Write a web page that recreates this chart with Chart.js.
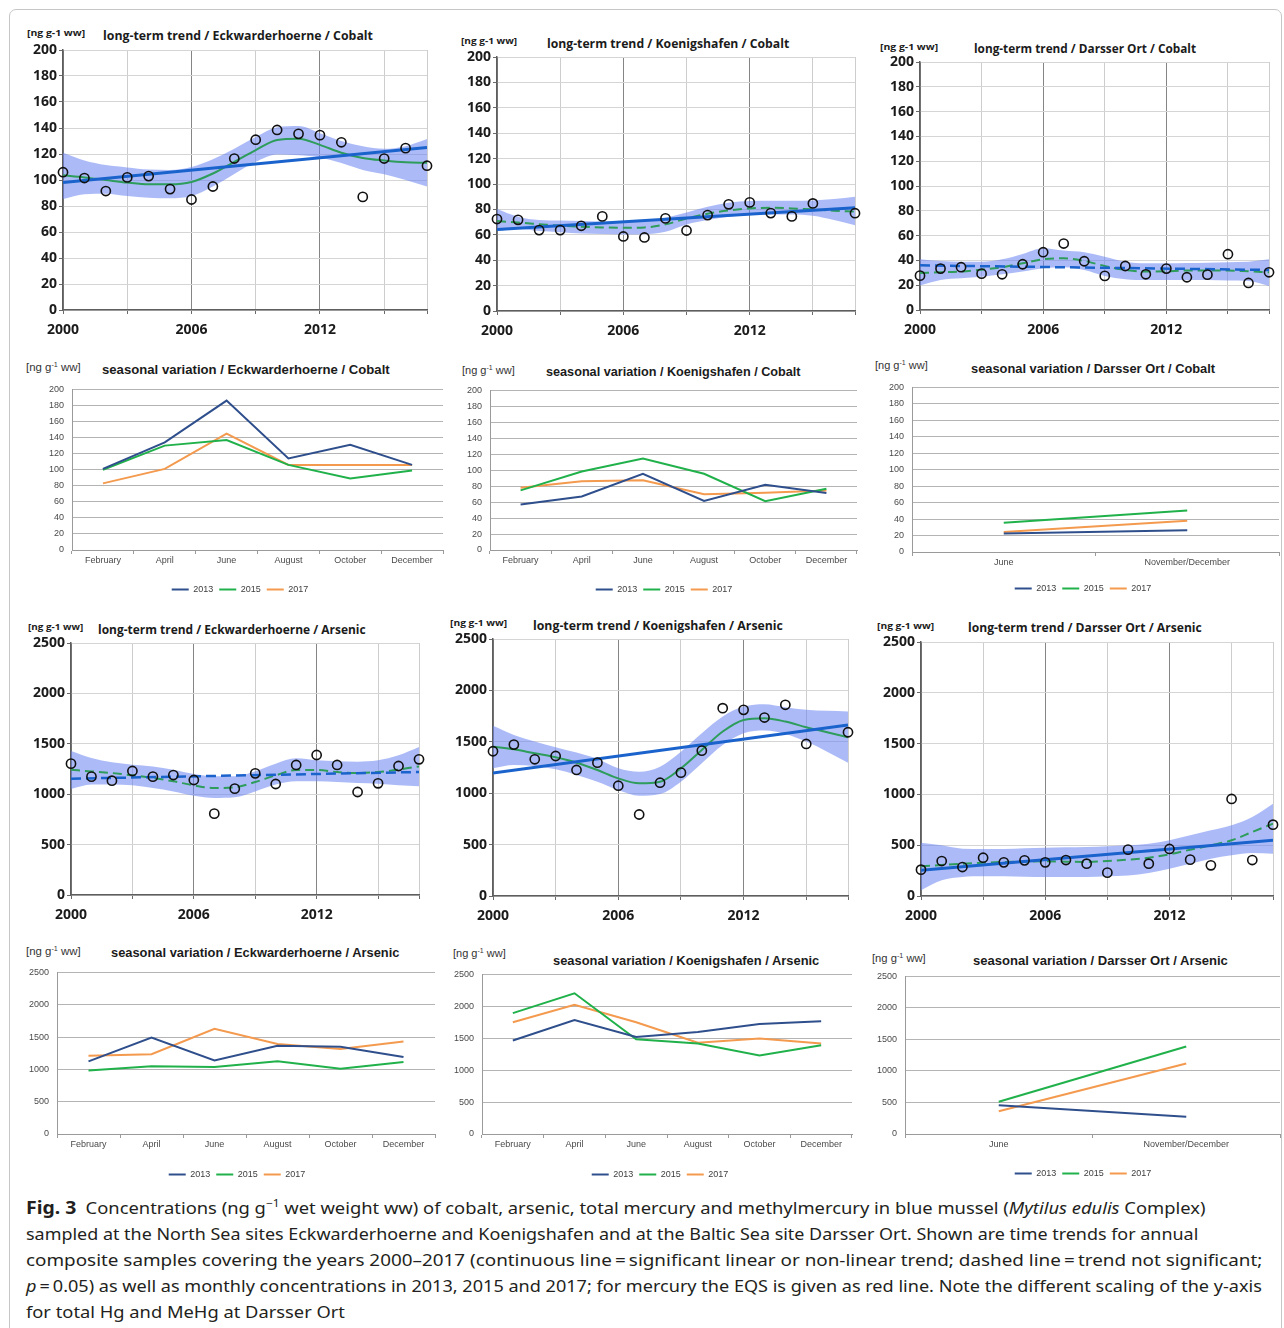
<!DOCTYPE html>
<html lang="en">
<head>
<meta charset="utf-8">
<title>Fig. 3 – cobalt and arsenic in blue mussel</title>
<script src="https://cdn.jsdelivr.net/npm/chart.js@4.4.1/dist/chart.umd.min.js"></script>
<style>
  html, body { margin:0; padding:0; background:#fff; }
  body { width:1284px; height:1328px; overflow:hidden; position:relative; }
  .frame { position:absolute; left:9px; top:9px; width:1273px; height:1340px; border:1px solid #c6c6c6; border-radius:7px; box-sizing:border-box; }
  canvas { position:absolute; }
  .t { position:absolute; white-space:nowrap; transform-origin:0 50%; transform:translateY(-50%); line-height:1.2; }
  .lt-title { font:700 12px 'Open Sans', sans-serif; color:#1b1b1b; }
  .lt-unit { font:700 9px 'Open Sans', sans-serif; color:#1b1b1b; }
  .sv-title { font:700 13px 'Liberation Sans', Arial, sans-serif; color:#1b1b1b; }
  .sv-unit { font:400 11px 'Liberation Sans', Arial, sans-serif; color:#333; }
  .sv-unit sup { font-size:7px; vertical-align:4px; line-height:0; }
  .cap { font:400 17px 'Noto Sans', sans-serif; color:#231f20; }
  .cap b { font-weight:700; font-size:18px; }
  .cap sup { font-size:11px; vertical-align:7px; line-height:0; }
</style>
</head>
<body>
<div class="frame"></div>

<!-- long-term trend panels: headings -->
<div class="t lt-unit"  style="left:27px;top:32px"    data-w="58">[ng g-1 ww]</div>
<div class="t lt-title" style="left:103px;top:35px"   data-w="270">long-term trend / Eckwarderhoerne / Cobalt</div>
<div class="t lt-unit"  style="left:461px;top:39.5px" data-w="56">[ng g-1 ww]</div>
<div class="t lt-title" style="left:547px;top:42.5px" data-w="242">long-term trend / Koenigshafen / Cobalt</div>
<div class="t lt-unit"  style="left:880px;top:45.5px" data-w="58">[ng g-1 ww]</div>
<div class="t lt-title" style="left:974px;top:47.5px" data-w="222">long-term trend / Darsser Ort / Cobalt</div>

<div class="t lt-unit"  style="left:28px;top:625.8px"  data-w="55">[ng g-1 ww]</div>
<div class="t lt-title" style="left:98px;top:628.5px"  data-w="268">long-term trend / Eckwarderhoerne / Arsenic</div>
<div class="t lt-unit"  style="left:450px;top:621.7px" data-w="57">[ng g-1 ww]</div>
<div class="t lt-title" style="left:533px;top:624.5px" data-w="250">long-term trend / Koenigshafen / Arsenic</div>
<div class="t lt-unit"  style="left:877px;top:624.7px" data-w="57">[ng g-1 ww]</div>
<div class="t lt-title" style="left:968px;top:627px"   data-w="234">long-term trend / Darsser Ort / Arsenic</div>

<!-- seasonal variation panels: headings -->
<div class="t sv-unit"  style="left:26px;top:367px"    data-w="55">[ng g<sup>-1</sup> ww]</div>
<div class="t sv-title" style="left:102px;top:369px"   data-w="288">seasonal variation / Eckwarderhoerne / Cobalt</div>
<div class="t sv-unit"  style="left:462px;top:370px"   data-w="53">[ng g<sup>-1</sup> ww]</div>
<div class="t sv-title" style="left:546px;top:370.5px" data-w="255">seasonal variation / Koenigshafen / Cobalt</div>
<div class="t sv-unit"  style="left:875px;top:365px"   data-w="53">[ng g<sup>-1</sup> ww]</div>
<div class="t sv-title" style="left:971px;top:367.5px" data-w="244">seasonal variation / Darsser Ort / Cobalt</div>

<div class="t sv-unit"  style="left:26px;top:951px"    data-w="55">[ng g<sup>-1</sup> ww]</div>
<div class="t sv-title" style="left:111px;top:951.8px" data-w="288">seasonal variation / Eckwarderhoerne / Arsenic</div>
<div class="t sv-unit"  style="left:453px;top:953.3px" data-w="53">[ng g<sup>-1</sup> ww]</div>
<div class="t sv-title" style="left:553px;top:960px"   data-w="266">seasonal variation / Koenigshafen / Arsenic</div>
<div class="t sv-unit"  style="left:872px;top:957.8px" data-w="54">[ng g<sup>-1</sup> ww]</div>
<div class="t sv-title" style="left:973px;top:960px"   data-w="255">seasonal variation / Darsser Ort / Arsenic</div>

<canvas id="c1"></canvas><canvas id="c2"></canvas><canvas id="c3"></canvas>
<canvas id="c4"></canvas><canvas id="c5"></canvas><canvas id="c6"></canvas>
<canvas id="c7"></canvas><canvas id="c8"></canvas><canvas id="c9"></canvas>
<canvas id="c10"></canvas><canvas id="c11"></canvas><canvas id="c12"></canvas>

<!-- figure caption -->
<div class="t cap" style="left:26px;top:1207px" data-w="1179"><b>Fig. 3</b>&ensp;Concentrations (ng g<sup>−1</sup> wet weight ww) of cobalt, arsenic, total mercury and methylmercury in blue mussel (<i>Mytilus edulis</i> Complex)</div>
<div class="t cap" style="left:26px;top:1233px" data-w="1172">sampled at the North Sea sites Eckwarderhoerne and Koenigshafen and at the Baltic Sea site Darsser Ort. Shown are time trends for annual</div>
<div class="t cap" style="left:26px;top:1259px" data-w="1236">composite samples covering the years 2000–2017 (continuous line&#8201;=&#8201;significant linear or non-linear trend; dashed line&#8201;=&#8201;trend not significant;</div>
<div class="t cap" style="left:26px;top:1285px" data-w="1236"><i>p</i>&#8201;=&#8201;0.05) as well as monthly concentrations in 2013, 2015 and 2017; for mercury the EQS is given as red line. Note the different scaling of the y-axis</div>
<div class="t cap" style="left:26px;top:1311px" data-k="avg">for total Hg and MeHg at Darsser Ort</div>

<script>
// ---------- annual composite samples (long-term trends) ----------
const years = [2000, 2001, 2002, 2003, 2004, 2005, 2006, 2007, 2008, 2009, 2010, 2011, 2012, 2013, 2014, 2015, 2016, 2017];
const yearTicks = [2000, 2003, 2006, 2009, 2012, 2015, 2017];
const yearLabels = ['2000', '2006', '2012'];

// Eckwarderhoerne – cobalt
const eckCoAnnual = [106, 101.5, 91.5, 102, 103, 93, 85, 95, 116.5, 131, 138.5, 135.5, 134.5, 129, 87, 116.5, 124.5, 111];
const eckCoLinear = [98, 125];
const eckCoSmooth = [103.6, 102, 100, 98, 96.7, 96.7, 98.5, 105, 114, 123, 130.8, 131.8, 127, 121, 117, 115, 113.6, 113.3];
const eckCoUpper  = [121, 115, 111.5, 109.7, 108, 107.7, 110, 116, 124, 133, 140.5, 141.5, 136, 130, 126, 124, 126, 131.5];
const eckCoLower  = [85.4, 89, 89.5, 87.7, 86.4, 86, 87.7, 95, 104.6, 114, 119.7, 119, 117.4, 113, 107.7, 104.4, 100, 95];

// Koenigshafen – cobalt (no sample in 2016)
const koeCoAnnual = [72.4, 71.8, 63.7, 63.7, 67.1, 74.5, 58.7, 57.9, 72.9, 63.4, 75.5, 84, 85.5, 77.1, 74.5, 84.7, null, 77];
const koeCoLinear = [64.2, 81.3];
const koeCoSmooth = [70.8, 69.6, 68.4, 67.2, 66.3, 65.8, 65.5, 65.8, 68.2, 72.9, 76.6, 79.2, 80.8, 81.3, 80.8, 80, 79, 78.2];
const koeCoUpper  = [80.3, 74.2, 71.6, 71.2, 70.8, 70.5, 70.3, 70.8, 73.4, 77.6, 82, 85.3, 86.6, 86.8, 86.8, 87.1, 88.2, 90];
const koeCoLower  = [62.9, 64.5, 62.9, 62, 61, 60.6, 60.3, 60.5, 62.4, 68.2, 71.6, 74.2, 75.5, 76, 76, 75, 71.6, 67.6];

// Darsser Ort – cobalt
const darCoAnnual = [27.7, 33.4, 34.5, 29.3, 28.8, 36.9, 46.6, 53.6, 39.3, 27.5, 35.5, 28.8, 33.4, 26.4, 28.5, 45, 21.8, 30.4];
const darCoLinear = [36, 32.3];
const darCoSmooth = [29.9, 30.4, 31, 32.5, 34.5, 37.7, 40.9, 41.7, 39.6, 35.5, 32.3, 31, 31.2, 31.8, 31.8, 31.8, 31.2, 30.4];
const darCoUpper  = [40.9, 39.5, 39, 39, 40.9, 45.2, 49.8, 47.9, 46.6, 43, 39, 37.7, 37.7, 38, 38.2, 38.6, 39, 40.9];
const darCoLower  = [19.7, 24.2, 25.6, 26.9, 28.8, 31, 33.6, 34.5, 32.3, 27.5, 24.8, 24.2, 24.2, 24.2, 24.2, 23.8, 23.4, 19.4];

// Eckwarderhoerne – arsenic
const eckAsAnnual = [1303, 1174, 1134, 1230, 1174, 1190, 1141, 807, 1055, 1207, 1101, 1290, 1389, 1290, 1022, 1108, 1280, 1346];
const eckAsLinear = [1154, 1220];
const eckAsSmooth = [1243, 1226, 1210, 1187, 1161, 1128, 1088, 1061, 1068, 1121, 1187, 1240, 1240, 1220, 1210, 1220, 1243, 1276];
const eckAsUpper  = [1429, 1359, 1316, 1293, 1276, 1243, 1200, 1177, 1177, 1227, 1303, 1356, 1336, 1326, 1323, 1336, 1386, 1468];
const eckAsLower  = [1052, 1095, 1095, 1088, 1061, 1028, 985, 962, 969, 1028, 1095, 1128, 1128, 1121, 1111, 1104, 1088, 1078];

// Koenigshafen – arsenic (no sample in 2016)
const koeAsAnnual = [1408, 1473, 1330, 1362, 1226, 1297, 1073, 793, 1102, 1200, 1414, 1827, 1811, 1736, 1860, 1479, null, 1593];
const koeAsLinear = [1196, 1664];
const koeAsSmooth = [1453, 1427, 1388, 1349, 1297, 1226, 1144, 1096, 1112, 1242, 1421, 1600, 1713, 1729, 1697, 1642, 1593, 1544];
const koeAsUpper  = [1655, 1567, 1502, 1447, 1395, 1333, 1242, 1209, 1258, 1404, 1583, 1746, 1843, 1866, 1837, 1811, 1801, 1795];
const koeAsLower  = [1242, 1274, 1265, 1232, 1177, 1112, 1031, 975, 992, 1112, 1291, 1469, 1583, 1609, 1577, 1502, 1404, 1297];

// Darsser Ort – arsenic
const darAsAnnual = [259, 344, 285, 377, 331, 351, 331, 354, 318, 230, 456, 318, 463, 358, 302, 955, 354, 702];
const darAsLinear = [253, 548];
const darAsSmooth = [292, 305, 318, 327, 335, 338, 341, 338, 335, 344, 358, 377, 410, 456, 499, 548, 630, 712];
const darAsUpper  = [525, 499, 466, 463, 463, 470, 476, 479, 482, 490, 499, 515, 548, 597, 646, 696, 778, 909];
const darAsLower  = [56, 154, 187, 194, 194, 190, 187, 187, 187, 195, 203, 226, 269, 318, 367, 400, 423, 417];

// ---------- monthly samples (seasonal variation) ----------
const months = ['February', 'April', 'June', 'August', 'October', 'December'];
const balticMonths = ['June', 'November/December'];
const seasonYears = ['2013', '2015', '2017'];

const eckCo2013 = [101, 134, 186, 114, 131, 106];
const eckCo2015 = [100, 130, 137, 106, 89, 99];
const eckCo2017 = [83, 101, 145, 106, 106, 106];

const koeCo2013 = [57, 67, 95.5, 61.6, 81.6, 71.4];
const koeCo2015 = [74.7, 98.4, 114.7, 95.5, 61.2, 76.7];
const koeCo2017 = [78, 86, 87.3, 69.8, 71.8, 74.7];

const darCo2013 = [22.6, 26.5];
const darCo2015 = [35.6, 50.3];
const darCo2017 = [24.4, 38];

const eckAs2013 = [1124, 1492, 1139, 1366, 1351, 1190];
const eckAs2015 = [983, 1048, 1038, 1124, 1008, 1114];
const eckAs2017 = [1210, 1235, 1628, 1391, 1316, 1431];

const koeAs2013 = [1464, 1786, 1520, 1597, 1724, 1765];
const koeAs2015 = [1893, 2204, 1485, 1418, 1230, 1390];
const koeAs2017 = [1750, 2025, 1750, 1429, 1495, 1418];

const darAs2013 = [455, 274];
const darAs2015 = [512, 1387];
const darAs2017 = [362, 1118];

// ---------- drawing ----------
Chart.defaults.animation = false;
Chart.defaults.responsive = false;
Chart.defaults.devicePixelRatio = 1;
Chart.defaults.events = [];
Chart.defaults.plugins.tooltip.enabled = false;

const BAND = 'rgba(104,132,240,0.55)';
const TREND = '#1b63cc';
const LOESS = '#2e9c5b';
const SEASON_COLORS = ['#2f4f8c', '#21b14b', '#f49a4e'];
const plainNumber = v => String(v);

function sizeCanvas(id, left, top, w, h) {
  const c = document.getElementById(id);
  c.width = Math.round(w); c.height = Math.round(h);
  c.style.left = left + 'px'; c.style.top = top + 'px';
  c.style.width = Math.round(w) + 'px'; c.style.height = Math.round(h) + 'px';
  return c;
}

// box = plot area in page pixels
function trendChart(id, box, s) {
  const padL = 6, padT = 12, padR = 14, padB = 2, xH = 34, yW = 46;
  const cl = box.l - yW - padL, ct = box.t - padT;
  const cw = box.r + padR - cl, ch = box.b + xH + padB - ct;
  const canvas = sizeCanvas(id, cl, ct, cw, ch);
  const pts = vals => years.map((x, i) => ({x, y: vals[i]})).filter(p => p.y !== null);
  const tickFont = {family: "'Open Sans', sans-serif", weight: 'bold', size: 14};
  return new Chart(canvas, {
    type: 'line',
    data: {datasets: [
      {label: 'annual', data: pts(s.annual), showLine: false, pointRadius: 4.6, pointBorderWidth: 1.6,
       pointBorderColor: '#111', pointBackgroundColor: 'rgba(0,0,0,0)', clip: false, order: 0},
      {label: 'linear', data: [{x: years[0], y: s.linear[0]}, {x: years[years.length - 1], y: s.linear[1]}],
       borderColor: TREND, borderWidth: s.linearSig ? 3 : 2.5, borderDash: s.linearSig ? [] : [10, 5], pointRadius: 0, order: 1},
      {label: 'smooth', data: pts(s.smooth), borderColor: LOESS, borderWidth: 2, borderDash: s.smoothSig ? [] : [9, 5],
       cubicInterpolationMode: 'monotone', pointRadius: 0, order: 2},
      {label: 'upper', data: pts(s.upper), borderColor: 'transparent', borderWidth: 0, backgroundColor: BAND, fill: '+1',
       cubicInterpolationMode: 'monotone', pointRadius: 0, order: 5},
      {label: 'lower', data: pts(s.lower), borderColor: 'transparent', borderWidth: 0, fill: false,
       cubicInterpolationMode: 'monotone', pointRadius: 0, order: 6}
    ]},
    options: {
      layout: {padding: {left: padL, top: padT, right: padR, bottom: padB}},
      plugins: {legend: {display: false}},
      scales: {
        x: {type: 'linear', min: years[0], max: years[years.length - 1],
          afterBuildTicks: sc => { sc.ticks = yearTicks.map(v => ({value: v})); },
          afterFit: sc => { sc.height = xH; },
          grid: {color: c => yearLabels.includes(String(c.tick && c.tick.value)) ? '#858585' : '#cdcdcd',
                 tickLength: 4, tickColor: '#6a6a6a'},
          border: {color: '#5e5e5e', width: 1.5},
          ticks: {autoSkip: false, maxRotation: 0, padding: 8, color: '#1b1b1b', font: tickFont,
                  callback: v => yearLabels.includes(String(v)) ? String(v) : ''}},
        y: {min: 0, max: s.max, afterFit: sc => { sc.width = yW; },
          grid: {color: '#d5d5d5', tickLength: 4, tickColor: '#6a6a6a'},
          border: {color: '#5e5e5e', width: 1.5},
          ticks: {stepSize: s.step, padding: 2, color: '#1b1b1b', font: tickFont, callback: plainNumber}}
      }
    }
  });
}

// leg = centre of the legend row in page pixels
function seasonChart(id, box, leg, cats, s) {
  const padT = 10, padR = 14, padB = 0, fs = 9, lp = 6;
  const legendH = fs + lp + 10;
  const bottom = Math.round(leg.cy + 10 + fs / 2);
  // legend spans from A to box.r + w2, so that it is centred on leg.cx
  const A = Math.min(box.l - 32, 2 * leg.cx - box.r);
  const w2 = Math.max(0, 2 * leg.cx - A - box.r);
  const cl = Math.floor(A) - 4, ct = box.t - padT;
  const padL = A - cl, yW = box.l - A;
  const cw = box.r + w2 + padR - cl, ch = bottom - ct;
  const xH = ch - padB - legendH - (box.b - ct);
  const canvas = sizeCanvas(id, cl, ct, cw, ch);
  const font = {family: "'Liberation Sans', Arial, sans-serif", size: fs};
  const scales = {
    x: {offset: true, afterFit: sc => { sc.height = xH; },
      grid: {offset: true, drawOnChartArea: false, tickLength: 4, tickColor: '#9a9a9a'},
      border: {color: '#9a9a9a'},
      ticks: {autoSkip: false, maxRotation: 0, padding: 1.5, color: '#4a4a4a', font}},
    y: {min: 0, max: s.max, afterFit: sc => { sc.width = yW; },
      grid: {color: '#b4b4b4', drawTicks: false},
      border: {color: '#9a9a9a'},
      ticks: {stepSize: s.step, padding: 8, color: '#4a4a4a', font, callback: plainNumber}}
  };
  if (w2 > 0) {
    scales.spacer = {position: 'right', min: 0, max: 1, afterFit: sc => { sc.width = w2; },
      grid: {display: false}, border: {display: false}, ticks: {display: false}};
  }
  return new Chart(canvas, {
    type: 'line',
    data: {labels: cats, datasets: seasonYears.map((yr, i) => ({
      label: yr, data: s.series[i], borderColor: SEASON_COLORS[i], backgroundColor: SEASON_COLORS[i],
      borderWidth: 2, pointRadius: 0, tension: 0}))},
    options: {
      layout: {padding: {left: padL, top: padT, right: padR, bottom: padB}},
      plugins: {legend: {position: 'bottom',
        labels: {usePointStyle: true, pointStyle: 'line', pointStyleWidth: 17, padding: lp, color: '#404040', font}}},
      scales
    }
  });
}

trendChart('c1', {l: 63, t: 50, r: 427, b: 310}, {max: 200, step: 20, annual: eckCoAnnual, linear: eckCoLinear, linearSig: true,
  smooth: eckCoSmooth, smoothSig: true, upper: eckCoUpper, lower: eckCoLower});
trendChart('c2', {l: 497, t: 57, r: 855, b: 311}, {max: 200, step: 20, annual: koeCoAnnual, linear: koeCoLinear, linearSig: true,
  smooth: koeCoSmooth, smoothSig: false, upper: koeCoUpper, lower: koeCoLower});
trendChart('c3', {l: 920, t: 62, r: 1269, b: 310}, {max: 200, step: 20, annual: darCoAnnual, linear: darCoLinear, linearSig: false,
  smooth: darCoSmooth, smoothSig: false, upper: darCoUpper, lower: darCoLower});

seasonChart('c4', {l: 72, t: 386, r: 443, b: 550}, {cx: 240, cy: 589}, months, {max: 200, step: 20, series: [eckCo2013, eckCo2015, eckCo2017]});
seasonChart('c5', {l: 490, t: 387, r: 857, b: 550}, {cx: 664, cy: 589}, months, {max: 200, step: 20, series: [koeCo2013, koeCo2015, koeCo2017]});
seasonChart('c6', {l: 912, t: 384, r: 1279, b: 552}, {cx: 1083, cy: 588}, balticMonths, {max: 200, step: 20, series: [darCo2013, darCo2015, darCo2017]});

trendChart('c7', {l: 71, t: 643, r: 419, b: 895}, {max: 2500, step: 500, annual: eckAsAnnual, linear: eckAsLinear, linearSig: false,
  smooth: eckAsSmooth, smoothSig: false, upper: eckAsUpper, lower: eckAsLower});
trendChart('c8', {l: 493, t: 639, r: 848, b: 896}, {max: 2500, step: 500, annual: koeAsAnnual, linear: koeAsLinear, linearSig: true,
  smooth: koeAsSmooth, smoothSig: true, upper: koeAsUpper, lower: koeAsLower});
trendChart('c9', {l: 921, t: 642, r: 1273, b: 896}, {max: 2500, step: 500, annual: darAsAnnual, linear: darAsLinear, linearSig: true,
  smooth: darAsSmooth, smoothSig: false, upper: darAsUpper, lower: darAsLower});

seasonChart('c10', {l: 57, t: 969, r: 435, b: 1134}, {cx: 237, cy: 1174}, months, {max: 2500, step: 500, series: [eckAs2013, eckAs2015, eckAs2017]});
seasonChart('c11', {l: 482, t: 971, r: 852, b: 1134}, {cx: 660, cy: 1174}, months, {max: 2500, step: 500, series: [koeAs2013, koeAs2015, koeAs2017]});
seasonChart('c12', {l: 905, t: 973, r: 1280, b: 1134}, {cx: 1083, cy: 1173}, balticMonths, {max: 2500, step: 500, series: [darAs2013, darAs2015, darAs2017]});

// stretch headings and caption lines to their set widths
const fitted = [];
document.querySelectorAll('[data-w]').forEach(el => {
  const k = parseFloat(el.dataset.w) / el.offsetWidth;
  el.style.transform = `translateY(-50%) scaleX(${k})`;
  if (el.classList.contains('cap')) fitted.push(k);
});
const kAvg = fitted.reduce((a, b) => a + b, 0) / fitted.length;
document.querySelectorAll('[data-k="avg"]').forEach(el => {
  el.style.transform = `translateY(-50%) scaleX(${kAvg})`;
});
</script>
</body>
</html>
